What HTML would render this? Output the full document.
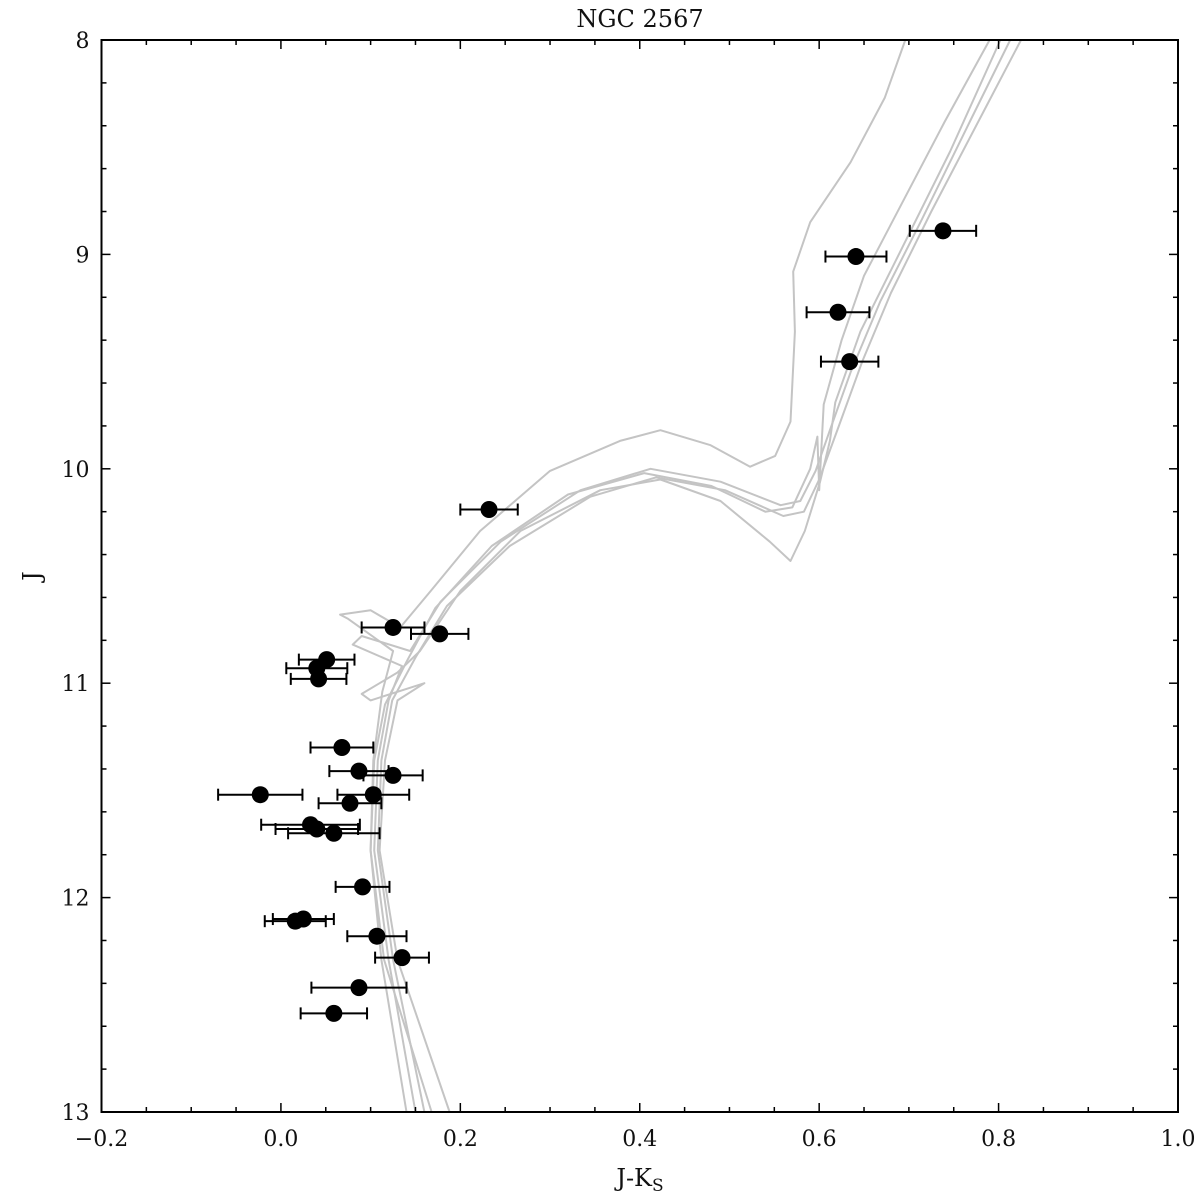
<!DOCTYPE html>
<html><head><meta charset="utf-8"><style>
body{margin:0;background:#fff}
text{font-family:"DejaVu Serif","Liberation Serif",serif;fill:#111}
</style></head><body>
<svg id="chart" width="1200" height="1198" xmlns="http://www.w3.org/2000/svg">
<g id="iso"></g>
<g id="pts"></g>
<g id="axes"></g>
<text x="640" y="27" text-anchor="middle" font-size="24">NGC 2567</text>
<text x="640" y="1186" text-anchor="middle" font-size="24">J-K<tspan font-size="17" dy="5">S</tspan></text>
<text x="40" y="576" text-anchor="middle" font-size="24" transform="rotate(-90 40 576)">J</text>
</svg>
<script>
const starColor=[0.125,0.177,0.051,0.040,0.042,0.068,0.087,0.125,-0.023,0.103,0.077,0.033,0.040,0.059,0.091,0.016,0.025,0.107,0.135,0.087,0.059,0.232,0.641,0.621,0.634,0.738];
const starJ=[10.74,10.77,10.89,10.93,10.98,11.30,11.41,11.43,11.52,11.52,11.56,11.66,11.68,11.70,11.95,12.11,12.10,12.18,12.28,12.42,12.54,10.19,9.01,9.27,9.50,8.89];
const starErr=[0.035,0.032,0.031,0.034,0.031,0.035,0.033,0.033,0.047,0.04,0.035,0.055,0.046,0.051,0.030,0.034,0.034,0.033,0.030,0.053,0.037,0.032,0.034,0.035,0.032,0.037];
const iso1=[[0.168,13.0],[0.115,12.29],[0.100,11.78],[0.103,11.36],[0.113,11.04],[0.125,10.85],[0.075,10.70],[0.066,10.68],[0.10,10.66],[0.133,10.74],[0.167,10.57],[0.222,10.29],[0.300,10.01],[0.378,9.87],[0.423,9.82],[0.479,9.89],[0.523,9.99],[0.551,9.94],[0.568,9.78],[0.573,9.36],[0.571,9.08],[0.590,8.85],[0.635,8.57],[0.673,8.27],[0.696,8.0]];
const iso2=[[0.188,13.0],[0.130,12.29],[0.110,11.78],[0.116,11.36],[0.130,11.08],[0.16,11.0],[0.10,11.08],[0.09,11.05],[0.13,10.95],[0.155,10.85],[0.200,10.57],[0.267,10.29],[0.356,10.10],[0.423,10.05],[0.490,10.15],[0.545,10.34],[0.568,10.43],[0.584,10.29],[0.601,10.06],[0.612,9.87],[0.618,9.69],[0.646,9.36],[0.690,8.99],[0.746,8.52],[0.802,8.0]];
const iso3=[[0.150,13.0],[0.120,12.29],[0.104,11.78],[0.108,11.36],[0.120,11.08],[0.135,10.92],[0.08,10.82],[0.09,10.78],[0.144,10.85],[0.178,10.62],[0.245,10.34],[0.334,10.10],[0.412,10.0],[0.490,10.06],[0.557,10.17],[0.579,10.15],[0.596,10.01],[0.612,9.82],[0.635,9.55],[0.668,9.22],[0.713,8.85],[0.768,8.38],[0.813,8.0]];
const iso4=[[0.160,13.0],[0.125,12.29],[0.108,11.78],[0.112,11.36],[0.124,11.08],[0.150,10.88],[0.185,10.64],[0.255,10.36],[0.345,10.13],[0.418,10.04],[0.495,10.10],[0.560,10.22],[0.583,10.20],[0.600,10.05],[0.622,9.80],[0.648,9.50],[0.680,9.18],[0.725,8.80],[0.785,8.32],[0.825,8.0]];
const iso5=[[0.140,13.0],[0.112,12.29],[0.100,11.78],[0.104,11.36],[0.116,11.10],[0.140,10.90],[0.172,10.65],[0.235,10.36],[0.320,10.12],[0.405,10.02],[0.480,10.08],[0.540,10.20],[0.570,10.18],[0.590,10.0],[0.598,9.85],[0.600,10.1],[0.605,9.70],[0.625,9.40],[0.650,9.10],[0.690,8.78],[0.740,8.38],[0.790,8.0]];
const isochrones=[iso1,iso2,iso3,iso4,iso5];
const xTicks=[-0.2,0.0,0.2,0.4,0.6,0.8,1.0];
const xTickLabels=["\u22120.2","0.0","0.2","0.4","0.6","0.8","1.0"];
const yTicks=[8,9,10,11,12,13];
const X0=101.5,X1=1178,Y0=40,Y1=1112;
const sx=v=>X0+(v+0.2)/1.2*(X1-X0);
const sy=v=>Y0+(v-8)/5*(Y1-Y0);
const NS="http://www.w3.org/2000/svg";
function mk(tag,attrs,parent){const e=document.createElementNS(NS,tag);for(const k in attrs)e.setAttribute(k,attrs[k]);parent.appendChild(e);return e;}
const iso=document.getElementById('iso');
isochrones.forEach((c,i)=>{
  const p=mk('polyline',{points:c.map(q=>sx(q[0]).toFixed(1)+','+sy(q[1]).toFixed(1)).join(' '),fill:'none',stroke:'#c4c4c4','stroke-width':2,'stroke-linejoin':'round'},iso);
  
  
});
const pts=document.getElementById('pts');
starColor.forEach((c,i)=>{
  const g=mk('g',{},pts);
  
  
  const y=sy(starJ[i]),xa=sx(c-starErr[i]),xb=sx(c+starErr[i]);
  mk('line',{x1:xa,x2:xb,y1:y,y2:y,stroke:'#000','stroke-width':2},g);
  mk('line',{x1:xa,x2:xa,y1:y-6,y2:y+6,stroke:'#000','stroke-width':2},g);
  mk('line',{x1:xb,x2:xb,y1:y-6,y2:y+6,stroke:'#000','stroke-width':2},g);
  mk('circle',{cx:sx(c),cy:y,r:8.5,fill:'#000'},g);
});
const ax=document.getElementById('axes');
for(let v=-0.2;v<=1.0001;v+=0.05){const x=sx(v);const maj=Math.abs(v*5-Math.round(v*5))<1e-6;const L=maj?9:5;
  mk('line',{x1:x,x2:x,y1:Y1,y2:Y1-L,stroke:'#000','stroke-width':1.5},ax);
  mk('line',{x1:x,x2:x,y1:Y0,y2:Y0+L,stroke:'#000','stroke-width':1.5},ax);}
for(let v=8;v<=13.0001;v+=0.2){const y=sy(v);const maj=Math.abs(v-Math.round(v))<1e-6;const L=maj?9:5;
  mk('line',{x1:X0,x2:X0+L,y1:y,y2:y,stroke:'#000','stroke-width':1.5},ax);
  mk('line',{x1:X1,x2:X1-L,y1:y,y2:y,stroke:'#000','stroke-width':1.5},ax);}
mk('rect',{x:X0,y:Y0,width:X1-X0,height:Y1-Y0,fill:'none',stroke:'#000','stroke-width':2},ax);
xTicks.forEach((v,i)=>{const t=mk('text',{x:sx(v),y:Y1+34,'text-anchor':'middle','font-size':22},ax);t.textContent=xTickLabels[i];
  
  });
yTicks.forEach(v=>{const t=mk('text',{x:X0-12,y:sy(v)+8,'text-anchor':'end','font-size':22},ax);t.textContent=String(v);
  
  });
</script>
</body></html>
